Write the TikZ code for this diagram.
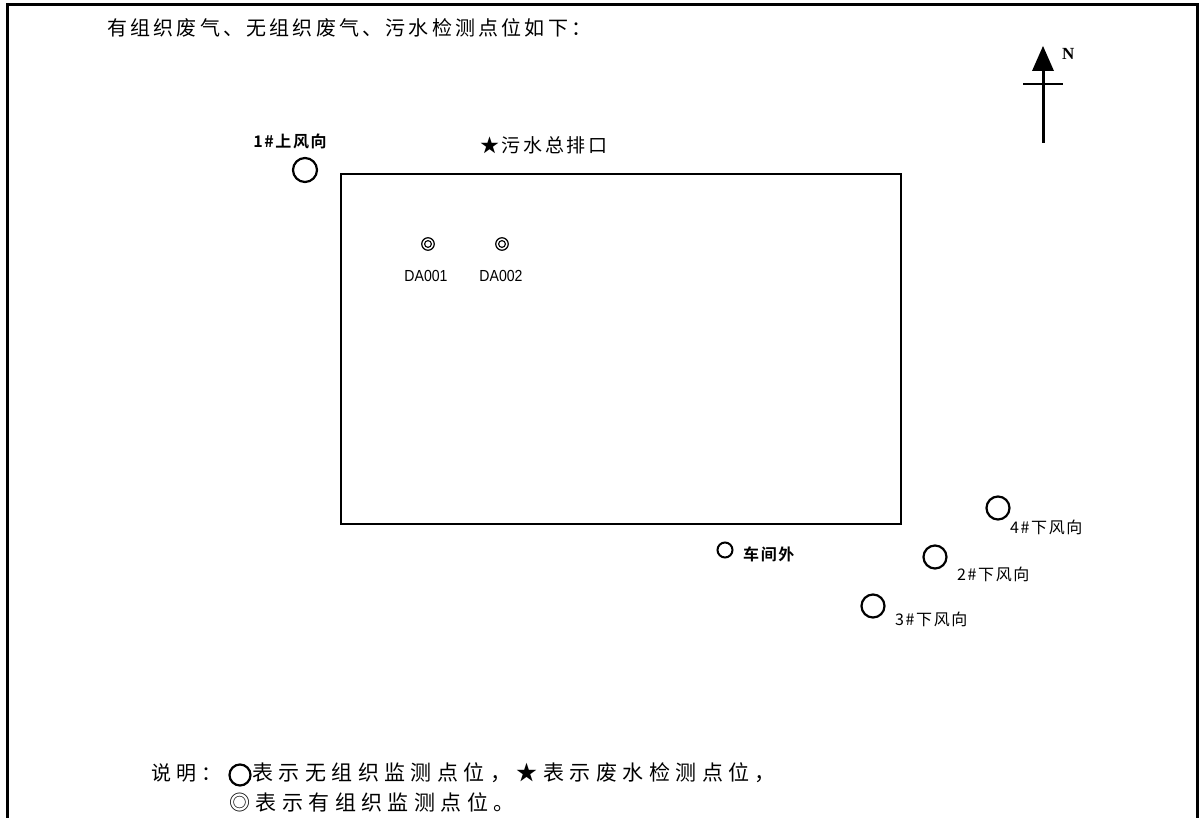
\documentclass[tikz,border=0pt]{standalone}
\usepackage{fontspec}
\newfontfamily\cjk[BoldFont={Noto Sans CJK SC Bold}]{Noto Sans CJK SC}
\newfontfamily\cjktitle[LetterSpace=16]{Noto Sans CJK SC}
\newfontfamily\cjkleg[LetterSpace=26]{Noto Sans CJK SC}
\newfontfamily\cjkstar[LetterSpace=14]{Noto Sans CJK SC}
\newfontfamily\cjksmall[LetterSpace=10]{Noto Sans CJK SC}
\newfontfamily\cjkbold[LetterSpace=10]{Noto Sans CJK SC Bold}
\newfontfamily\narrowsans[FakeStretch=0.88]{Liberation Sans}
\setmainfont{Liberation Serif}
\begin{document}
\begin{tikzpicture}[x=1pt,y=-1pt,
  pt/.style={circle,draw,line width=2.2pt,inner sep=0pt},
  dbl/.style={circle,draw,line width=1.2pt,minimum size=12.5pt,inner sep=0pt},
  lbl/.style={inner sep=0pt,font=\cjksmall\fontsize{16}{18}\selectfont},
  blbl/.style={inner sep=0pt,font=\cjkbold\fontsize{16}{18}\selectfont},
  txt/.style={anchor=west,inner sep=0pt}]
\useasboundingbox (0,0) rectangle (1202,818);
% frame
\draw[line width=3pt] (7,830) -- (7,5) -- (1197,5) -- (1197,830);
% title
\node[txt,font=\cjktitle\fontsize{20}{22}\selectfont] (title) at (107,28) {有组织废气、无组织废气、污水检测点位如下：};
% north arrow
\coordinate (nb) at (1043,143);
\coordinate (nt) at (1043,68);
\draw[line width=3pt] (nb) -- (nt);
\fill (1043,46) -- (1054,71) -- (1032,71) -- cycle;
\draw[line width=2pt] (1023,84) -- (1063,84);
\node[txt,font=\bfseries\fontsize{17}{18}\selectfont] (N) at (1062,54) {N};
% plant rectangle
\draw[line width=1.5pt] (341,174) rectangle (901,524);
% points
\node[pt,minimum size=24pt] (p1) at (305,170) {};
\node[blbl,anchor=center] (l1) at (290,141) {1\#上风向};
\node[txt,font=\cjkstar\fontsize{19}{20}\selectfont] (ws) at (480,145) {★污水总排口};
\node[dbl] (da1) at (428,244) {};
\draw[line width=1.1pt] (da1.center) circle (3.4);
\node[dbl] (da2) at (502,244) {};
\draw[line width=1.1pt] (da2.center) circle (3.4);
\node[inner sep=0pt,font=\narrowsans\fontsize{16}{18}\selectfont] (lda1) at (426,276) {DA001};
\node[inner sep=0pt,font=\narrowsans\fontsize{16}{18}\selectfont] (lda2) at (501,276) {DA002};
\node[pt,line width=2pt,minimum size=15pt] (cj) at (725,550) {};
\node[blbl,anchor=west] (lcj) at (743,554) {车间外};
\node[pt,minimum size=23pt] (p4) at (998,508) {};
\node[lbl,anchor=west] (l4) at (1010,527) {4\#下风向};
\node[pt,minimum size=23pt] (p2) at (935,557) {};
\node[lbl,anchor=west] (l2) at (957,574) {2\#下风向};
\node[pt,minimum size=23pt] (p3) at (873,606) {};
\node[lbl,anchor=west] (l3) at (895,619) {3\#下风向};
% legend
\node[txt,font=\cjkleg\fontsize{20}{22}\selectfont] (lg0) at (151,773) {说明：};
\node[pt,line width=2.2pt,minimum size=21pt] (lgc) at (240,775) {};
\node[txt,font=\cjkleg\fontsize{21}{22}\selectfont] (lg1) at (252,773) {表示无组织监测点位，★表示废水检测点位，};
\node[txt,font=\cjkleg\fontsize{21}{22}\selectfont] (lg2) at (229,802) {◎表示有组织监测点位。};
\end{tikzpicture}
\end{document}
